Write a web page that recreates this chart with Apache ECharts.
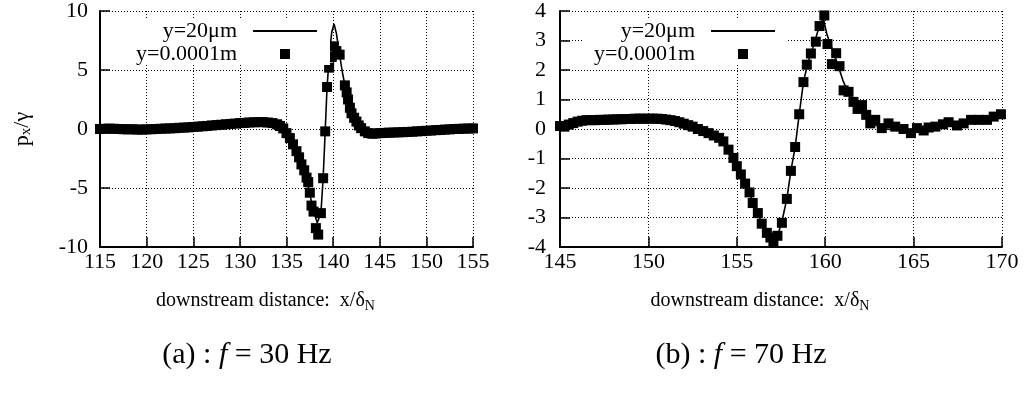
<!DOCTYPE html>
<html><head><meta charset="utf-8">
<script src="https://cdn.jsdelivr.net/npm/echarts@6/dist/echarts.min.js"></script>
<style>html,body{margin:0;padding:0;background:#fff}#c{width:1029px;height:395px}</style>
</head><body><div id="c"></div>
<script>
// ---------- data ----------
const seriesNames = ['y=20μm', 'y=0.0001m'];

// (a) f = 30 Hz
const aLineX = [115,120,125,130,132.5,133.5,134.3,135,136,136.6,137.15,137.5,137.9,138.3,138.69,138.93,139.15,139.35,139.6,139.85,140.1,140.35,140.6,140.95,141.26,141.6,141.97,142.5,143,143.76,145,150,155];
const aLineY = [0.0,0.0,0.15,0.45,0.57,0.5,0.25,-0.35,-1.8,-3.0,-4.12,-5.5,-7.0,-7.95,-7.13,-4.17,-0.2,3.56,6.3,8.2,8.9,8.1,6.8,5.0,3.7,2.5,1.33,0.55,0.05,-0.35,-0.35,-0.15,0.05];
const aPtsX = [115,115.5,116,116.5,117,117.5,118,118.5,119,119.5,120,120.5,121,121.5,122,122.5,123,123.5,124,124.5,125,125.5,126,126.5,127,127.5,128,128.5,129,129.5,130,130.5,131,131.5,132,132.5,133,133.5,134,134.3,134.65,135,135.36,135.7,136.07,136.35,136.6,136.9,137.15,137.33,137.5,137.68,137.9,138.15,138.4,138.69,138.93,139.15,139.35,139.57,139.85,140.1,140.35,140.7,141.26,141.45,141.6,141.8,141.97,142.25,142.5,142.75,143,143.4,143.76,144.2,144.6,145,145.5,146,146.5,147,147.5,148,148.5,149,149.5,150,150.5,151,151.5,152,152.5,153,153.5,154,154.5,155];
const aPtsY = [0.0,0.02,0.03,0.02,0.0,-0.02,-0.03,-0.02,-0.05,-0.05,-0.03,-0.02,0.0,0.02,0.04,0.05,0.07,0.1,0.12,0.14,0.17,0.2,0.23,0.26,0.3,0.33,0.36,0.4,0.43,0.46,0.5,0.52,0.55,0.57,0.58,0.58,0.55,0.5,0.4,0.25,0.05,-0.35,-0.77,-1.3,-1.88,-2.4,-3.0,-3.5,-4.12,-4.5,-5.4,-6.49,-7.0,-8.4,-8.95,-7.13,-4.17,-0.2,3.56,5.2,6.1,7.0,6.6,6.3,3.7,3.1,2.5,1.8,1.33,0.95,0.63,0.3,0.07,-0.2,-0.35,-0.4,-0.38,-0.35,-0.33,-0.31,-0.3,-0.28,-0.27,-0.25,-0.23,-0.2,-0.18,-0.15,-0.13,-0.1,-0.08,-0.05,-0.03,0.0,0.01,0.03,0.04,0.05];

// (b) f = 70 Hz
const bLineX = [145,146,147,148,149,150,151,152,152.8,153.4,154,154.5,155,155.5,156,156.5,156.9,157.1,157.35,157.6,157.83,158.06,158.3,158.53,158.77,159,159.3,159.6,159.88,160.1,160.4,160.7,161,161.5,162,162.5,163,163.5,164,164.5,165,165.5,166,167,168,169,170];
const bLineY = [0.08,0.25,0.3,0.32,0.34,0.35,0.32,0.18,0.0,-0.14,-0.3,-0.65,-1.2,-1.85,-2.6,-3.3,-3.65,-3.72,-3.55,-3.0,-2.37,-1.42,-0.61,0.5,1.59,2.2,2.75,3.35,3.78,3.2,2.7,2.2,1.65,0.95,0.55,0.25,0.08,0.0,-0.04,-0.05,-0.03,0.0,0.05,0.15,0.25,0.35,0.48];
const bPtsX = [145,145.25,145.5,145.75,146,146.25,146.5,146.75,147,147.25,147.5,147.75,148,148.25,148.5,148.75,149,149.25,149.5,149.75,150,150.25,150.5,150.75,151,151.25,151.5,151.75,152,152.25,152.5,152.8,153.1,153.4,153.7,154,154.24,154.53,154.81,155,155.23,155.47,155.72,155.9,156.19,156.41,156.7,156.9,157.07,157.3,157.55,157.83,158.06,158.3,158.53,158.77,158.96,159.19,159.47,159.68,159.95,160.13,160.38,160.62,160.81,161.04,161.32,161.6,161.83,162.08,162.32,162.55,162.83,163.2,163.58,163.96,164.43,164.85,165.19,165.57,165.85,166.23,166.66,166.98,167.45,167.83,168.25,168.68,169.15,169.53,169.94];
const bPtsY = [0.1,0.08,0.15,0.2,0.25,0.28,0.3,0.3,0.3,0.31,0.31,0.32,0.32,0.33,0.33,0.34,0.34,0.35,0.35,0.35,0.35,0.35,0.35,0.34,0.32,0.3,0.27,0.23,0.18,0.13,0.08,0.0,-0.07,-0.14,-0.22,-0.3,-0.42,-0.7,-0.98,-1.26,-1.54,-1.85,-2.15,-2.51,-2.85,-3.21,-3.52,-3.68,-3.82,-3.62,-3.18,-2.37,-1.42,-0.61,0.5,1.59,2.18,2.56,2.96,3.49,3.85,2.88,2.2,2.57,2.13,1.31,1.26,0.92,0.68,0.81,0.48,0.19,0.31,0.03,0.19,0.08,0.0,-0.14,0.03,-0.05,0.05,0.08,0.16,0.23,0.12,0.19,0.31,0.31,0.31,0.42,0.5];

// axis ranges / ticks
const aXRange = [115, 155, 5];
const aYRange = [-10, 10, 5];
const bXRange = [145, 170, 5];
const bYRange = [-4, 4, 1];

const xLabelText = '{a|downstream distance:  x/δ}{b|N}';
const yLabelText = '{a|p}{b|x}{a|/γ}';
const captionA = '{n|(a) : }{i|f}{n| = 30 Hz}';
const captionB = '{n|(b) : }{i|f}{n| = 70 Hz}';

// ---------- chart ----------
const FONT = 'Liberation Serif';
const pairs = (xs, ys) => xs.map((x, i) => [x, ys[i]]);

const richName = {
  a: {fontFamily: FONT, fontSize: 20, color: '#000', lineHeight: 24},
  b: {fontFamily: FONT, fontSize: 14, color: '#000', lineHeight: 16, verticalAlign: 'bottom'}
};
const richYName = {
  a: {fontFamily: FONT, fontSize: 22, color: '#000', lineHeight: 24},
  b: {fontFamily: FONT, fontSize: 15, color: '#000', lineHeight: 16, verticalAlign: 'bottom'}
};

function xAxis(gi, r) {
  return {
    type: 'value', gridIndex: gi, min: r[0], max: r[1], interval: r[2],
    name: xLabelText, nameLocation: 'middle', nameGap: 42,
    nameTextStyle: {padding: [0, 42, 0, 0], rich: richName},
    axisLine: {show: true, onZero: false, lineStyle: {color: '#000', width: 2}},
    axisTick: {show: true, inside: true, length: 10, lineStyle: {color: '#000', width: 1.5}},
    axisLabel: {fontFamily: FONT, fontSize: 22, color: '#000', margin: 4},
    splitLine: {show: true, lineStyle: {color: '#000', width: 1, type: [1, 2]}}
  };
}
function yAxis(gi, r, margin, withName) {
  const o = {
    type: 'value', gridIndex: gi, min: r[0], max: r[1], interval: r[2],
    axisLine: {show: true, onZero: false, lineStyle: {color: '#000', width: 2}},
    axisTick: {show: true, inside: true, length: 10, lineStyle: {color: '#000', width: 1.5}},
    axisLabel: {fontFamily: FONT, fontSize: 22, color: '#000', margin: margin},
    splitLine: {show: true, lineStyle: {color: '#000', width: 1, type: [1, 2]}}
  };
  if (withName) {
    o.name = yLabelText; o.nameLocation = 'middle'; o.nameGap = 66; o.nameRotate = 90;
    o.nameTextStyle = {rich: richYName};
  }
  return o;
}
// legend icons: an invisible leading move-to widens the icon box so the
// visible sample sits 16px to the right of the text, as in the original key
function legend(rightPx) {
  return {
    data: [
      {name: seriesNames[0], icon: 'path://M0 0M11 0H75V1.8H11Z'},
      {name: seriesNames[1], icon: 'path://M0 0M38 0H48V10H38ZM75 10'}
    ],
    orient: 'vertical', align: 'right', right: rightPx, top: 20,
    padding: [0, 13, 0, 12], itemWidth: 75, itemHeight: 10, itemGap: 1,
    backgroundColor: '#fff', selectedMode: false,
    textStyle: {fontFamily: FONT, fontSize: 22, color: '#000', lineHeight: 21}
  };
}
function lineSeries(gi, xs, ys) {
  return {name: seriesNames[0], type: 'line', xAxisIndex: gi, yAxisIndex: gi, data: pairs(xs, ys),
    symbol: 'none', lineStyle: {color: '#000', width: 1.6}, itemStyle: {color: '#000'}, z: 3};
}
function ptsSeries(gi, xs, ys) {
  return {name: seriesNames[1], type: 'scatter', xAxisIndex: gi, yAxisIndex: gi, data: pairs(xs, ys),
    symbol: 'rect', symbolSize: 10, itemStyle: {color: '#000', opacity: 1}, z: 2};
}
const capRich = {
  n: {fontFamily: FONT, fontSize: 30, color: '#000'},
  i: {fontFamily: FONT, fontSize: 30, fontStyle: 'italic', color: '#000'}
};

const chart = echarts.init(document.getElementById('c'), null, {renderer: 'canvas'});
chart.setOption({
  animation: false,
  backgroundColor: '#fff',
  grid: [
    {left: 100, top: 8, width: 373, height: 239},
    {left: 560, top: 8, width: 442, height: 239}
  ],
  xAxis: [xAxis(0, aXRange), xAxis(1, bXRange)],
  yAxis: [yAxis(0, aYRange, 12, true), yAxis(1, bYRange, 14, false)],
  legend: [legend(699), legend(241)],
  series: [
    lineSeries(0, aLineX, aLineY), ptsSeries(0, aPtsX, aPtsY),
    lineSeries(1, bLineX, bLineY), ptsSeries(1, bPtsX, bPtsY)
  ],
  graphic: [
    {type: 'text', x: 247, y: 355, style: {text: captionA, rich: capRich, align: 'center', verticalAlign: 'middle'}},
    {type: 'text', x: 741, y: 355, style: {text: captionB, rich: capRich, align: 'center', verticalAlign: 'middle'}}
  ]
});
</script></body></html>
